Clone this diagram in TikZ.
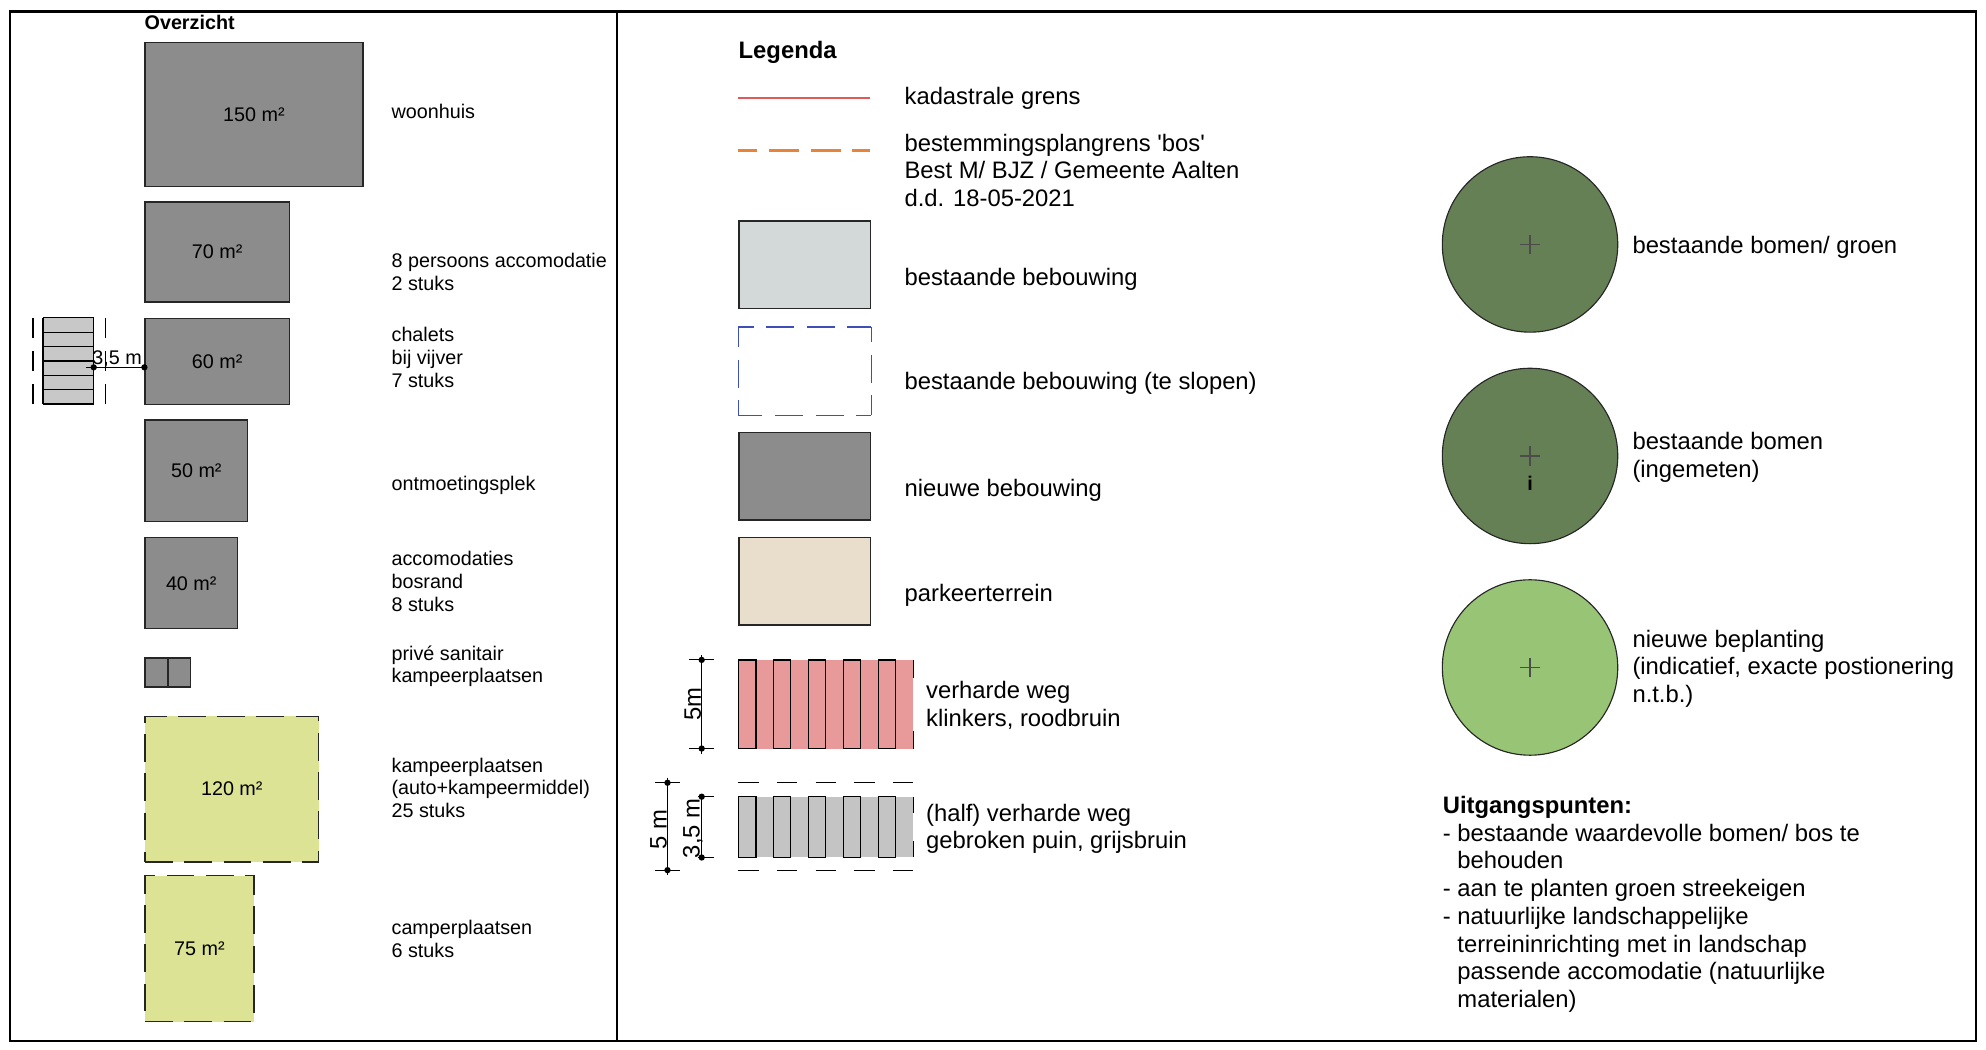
\documentclass[tikz,border=0pt]{standalone}
\usepackage{fontspec}
\setmainfont{Liberation Sans}
\usetikzlibrary{positioning}

\definecolor{nieuwgrijs}{HTML}{8C8C8C}
\definecolor{kampgroen}{HTML}{DCE395}
\definecolor{chaletgrijs}{HTML}{C8C8C8}
\definecolor{bestaandgrijs}{HTML}{D3D9D9}
\definecolor{sloopblauw}{HTML}{3F4FB8}
\definecolor{kadasterrood}{HTML}{E05A5A}
\definecolor{bosoranje}{HTML}{E8843A}
\definecolor{parkeerbeige}{HTML}{E9DDCB}
\definecolor{klinkerrood}{HTML}{E8999A}
\definecolor{puingrijs}{HTML}{C4C4C4}
\definecolor{donkergroen}{HTML}{668056}
\definecolor{lichtgroen}{HTML}{98C476}

\newcommand{\klein}{\fontsize{15.6}{18}\selectfont}
\newcommand{\groot}{\fontsize{18.8}{21.5}\selectfont}
\newcommand{\uitfont}{\fontsize{18.8}{21.85}\selectfont}
\newcommand{\inspring}{\hphantom{-\ }}

\begin{document}
\begin{tikzpicture}[x=1pt,y=-1pt,
  gebouw/.style={draw=black!85, line width=1pt, fill=nieuwgrijs, anchor=north west, inner sep=0pt, font=\klein},
  kampeer/.style={gebouw, fill=kampgroen, dash pattern=on 22pt off 9pt},
  tekst/.style={anchor=west, align=left, inner sep=0pt, font=\klein},
  legtekst/.style={anchor=west, align=left, inner sep=0pt, font=\groot},
  legvak/.style={draw=black!85, line width=1pt, anchor=north west, minimum width=104pt, minimum height=69pt, inner sep=0pt},
  stip/.style={circle, fill=black, inner sep=0pt, minimum size=5pt},
  maatlijn/.style={line width=0.9pt},
  maattekst/.style={font=\groot, rotate=90, inner sep=0pt},
  boom/.style={circle, draw=black!85, line width=0.9pt, minimum size=138.5pt, inner sep=0pt},
  kruis/.style={draw=black!70, line width=0.9pt}]

\useasboundingbox (0,0) rectangle (1568,829);

% kader
\draw[line width=2pt] (8,9) rectangle (1560,822);
\draw[line width=2pt] (487,9) -- (487,822);

% overzicht
\node[tekst, font=\klein\bfseries] (overzicht) at (114,18) {Overzicht};

\node[gebouw, minimum width=172pt, minimum height=114pt] (woonhuis) at (114,33) {150 m²};
\node[gebouw, minimum width=114pt, minimum height=79pt] (acc8) at (114,159) {70 m²};
\node[gebouw, minimum width=114pt, minimum height=68pt] (chalet) at (114,251) {60 m²};
\node[gebouw, minimum width=81pt, minimum height=80pt] (ontmoet) at (114,331) {50 m²};
\node[gebouw, minimum width=73pt, minimum height=72pt] (bosrand) at (114,424) {40 m²};
\node[gebouw, minimum width=17.5pt, minimum height=23pt] (sanA) at (114,519) {};
\node[gebouw, minimum width=17.5pt, minimum height=23pt] (sanB) at (sanA.north east) {};
\node[kampeer, minimum width=137pt, minimum height=115pt] (kampeer) at (114,565) {120 m²};
\node[kampeer, minimum width=86pt, minimum height=115pt] (camper) at (114,691) {75 m²};

\node[tekst] (t150) at (309,88) {woonhuis};
\node[tekst] (t70) at (309,215) {8 persoons accomodatie\\2 stuks};
\node[tekst] (t60) at (309,282) {chalets\\bij vijver\\7 stuks};
\node[tekst] (t50) at (309,383) {ontmoetingsplek};
\node[tekst] (t40) at (309,459) {accomodaties\\bosrand\\8 stuks};
\node[tekst] (tsan) at (309,526) {privé sanitair\\kampeerplaatsen};
\node[tekst] (t120) at (309,622) {kampeerplaatsen\\(auto+kampeermiddel)\\25 stuks};
\node[tekst] (t75) at (309,741) {camperplaatsen\\6 stuks};

% pad bij de chalets
\fill[chaletgrijs] (34,251) rectangle (74,319);
\foreach \i in {0,...,6}
  \draw[line width=0.9pt] (34,{251+11.333*\i}) -- (74,{251+11.333*\i});
\draw[line width=0.9pt] (34,251) -- (34,319) (74,251) -- (74,319);
\draw[line width=0.9pt, dash pattern=on 16pt off 10pt] (26,251) -- (26,319) (83,251) -- (83,319);

\node[stip] (mA) at (74,290) {};
\node[stip] (mB) at (114,290) {};
\draw[maatlijn] ([xshift=-6pt]mA.center) -- (mB.center);
\node[tekst, anchor=base] (maat35) at (92.5,287.5) {3,5 m};

% legenda
\node[legtekst, font=\groot\bfseries] (legenda) at (583,41) {Legenda};

\coordinate (kadA) at (583,77);
\coordinate (kadB) at (687,77);
\draw[kadasterrood, line width=1.6pt] (kadA) -- (kadB);
\node[legtekst] (kadtekst) at (714,78) {kadastrale grens};

\coordinate (bosA) at (583,119);
\coordinate (bosB) at (687,119);
\draw[bosoranje, line width=2pt, dash pattern=on 24pt off 9pt, dash phase=9pt] (bosA) -- (bosB);
\node[legtekst] (bostekst) at (714,134.5) {bestemmingsplangrens \textquotesingle bos\textquotesingle\\Best M/ BJZ / Gemeente Aalten\\d.d. 18-05-2021};

\node[legvak, fill=bestaandgrijs] (bestaand) at (583,174) {};
\node[legtekst] (besttekst) at (714,220.5) {bestaande bebouwing};
\node[legvak, draw=none] (slopen) at (583,258) {};
\draw[sloopblauw, line width=1.2pt, dash pattern=on 22pt off 10pt, dash phase=10pt]
  (slopen.north west) -- (slopen.north east) (slopen.north east) -- (slopen.south east)
  (slopen.south east) -- (slopen.south west) (slopen.south west) -- (slopen.north west);
\node[legtekst] (sloptekst) at (714,303) {bestaande bebouwing (te slopen)};
\node[legvak, fill=nieuwgrijs] (nieuw) at (583,341) {};
\node[legtekst] (nieuwtekst) at (714,387.5) {nieuwe bebouwing};
\node[legvak, fill=parkeerbeige] (parkeer) at (583,424) {};
\node[legtekst] (parktekst) at (714,470) {parkeerterrein};

% klinkers
\fill[klinkerrood] (583,521) rectangle (721,591);
\foreach \i in {0,...,4}
  \draw[line width=1pt] ({583+27.6*\i},521) rectangle ++(13.8,70);
\draw[line width=1pt] (721,521) -- (721,535) (721,577) -- (721,591);
\node[legtekst] (klinktekst) at (731,557) {verharde weg\\klinkers, roodbruin};

\node[stip] (k1) at (554,521) {};
\node[stip] (k2) at (554,591) {};
\draw[maatlijn] ([yshift=4pt]k1.center) -- ([yshift=-4pt]k2.center);
\draw[maatlijn] ([xshift=-10pt]k1.center) -- ([xshift=10pt]k1.center);
\draw[maatlijn] ([xshift=-10pt]k2.center) -- ([xshift=10pt]k2.center);
\node[maattekst] (k5m) at (547,556) {5m};

% puin
\fill[puingrijs] (583,629) rectangle (721,677);
\foreach \i in {0,...,4}
  \draw[line width=1pt] ({583+27.6*\i},629) rectangle ++(13.8,48);
\draw[line width=1pt] (721,629) -- (721,642) (721,664) -- (721,677);
\draw[line width=1pt, dash pattern=on 16pt off 14.5pt] (583,618) -- (721,618) (583,687) -- (721,687);
\node[legtekst] (puintekst) at (731,654.5) {(half) verharde weg\\gebroken puin, grijsbruin};

\node[stip] (p1) at (527,618) {};
\node[stip] (p2) at (527,687) {};
\draw[maatlijn] ([yshift=4pt]p1.center) -- ([yshift=-4pt]p2.center);
\draw[maatlijn] ([xshift=-10pt]p1.center) -- ([xshift=10pt]p1.center);
\draw[maatlijn] ([xshift=-10pt]p2.center) -- ([xshift=10pt]p2.center);
\node[maattekst] (p5m) at (520,655) {5 m};

\node[stip] (q1) at (554,629) {};
\node[stip] (q2) at (554,677) {};
\draw[maatlijn] (q1.center) -- (q2.center);
\draw[maatlijn] ([xshift=-3pt]q1.center) -- ([xshift=10pt]q1.center);
\draw[maatlijn] ([xshift=-3pt]q2.center) -- ([xshift=10pt]q2.center);
\node[maattekst] (q35m) at (547,654) {3,5 m};

% bomen
\node[boom, fill=donkergroen] (boom1) at (1208,193) {};
\node[boom, fill=donkergroen] (boom2) at (1208,360) {};
\node[boom, fill=lichtgroen] (boom3) at (1208,527) {};
\foreach \b in {boom1,boom2,boom3} {
  \draw[kruis] ([xshift=-7.6pt]\b.center) -- ([xshift=7.6pt]\b.center);
  \draw[kruis] ([yshift=-7.6pt]\b.center) -- ([yshift=7.6pt]\b.center);
}
\node[font=\klein\bfseries, inner sep=0pt] (ingemeten) at (1208,382) {i};

\node[legtekst, right=11pt of boom1, yshift=-2pt] (boomtekst1) {bestaande bomen/ groen};
\node[legtekst, right=11pt of boom2, yshift=-1pt] (boomtekst2) {bestaande bomen\\(ingemeten)};
\node[legtekst, right=11pt of boom3, yshift=-1pt] (boomtekst3) {nieuwe beplanting\\(indicatief, exacte postionering\\n.t.b.)};

% uitgangspunten
\node[legtekst, font=\uitfont] (uitgang) at (1139,714) {\textbf{Uitgangspunten:}\\
- bestaande waardevolle bomen/ bos te\\
\inspring behouden\\
- aan te planten groen streekeigen\\
- natuurlijke landschappelijke\\
\inspring terreininrichting met in landschap\\
\inspring passende accomodatie (natuurlijke\\
\inspring materialen)};

\end{tikzpicture}
\end{document}
